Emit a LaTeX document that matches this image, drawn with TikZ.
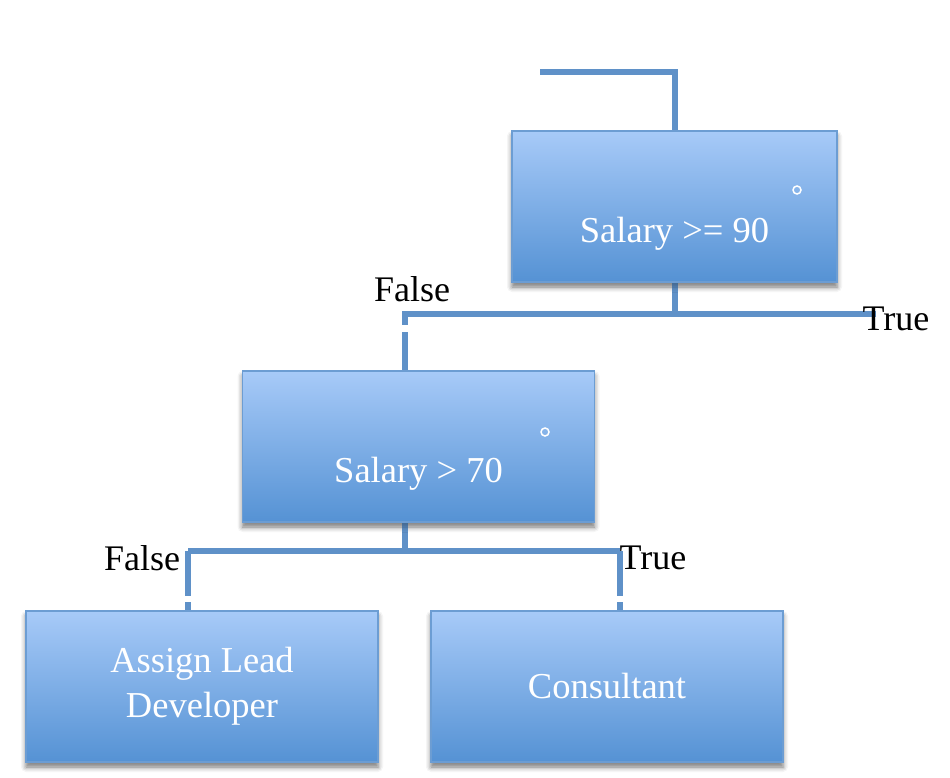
\documentclass[tikz,border=0pt]{standalone}
\usepackage{fontspec}
\setmainfont{Liberation Serif}
\usetikzlibrary{shadows.blur}
\definecolor{boxtop}{HTML}{A7CAF8}
\definecolor{boxbot}{HTML}{5592D4}
\definecolor{boxedge}{HTML}{6C9DD3}
\definecolor{wire}{HTML}{5F91C8}
\tikzset{
  box/.style={rectangle, draw=boxedge, line width=1.5pt, top color=boxtop, bottom color=boxbot,
    minimum width=352pt, minimum height=151pt, text=white, align=center,
    font=\fontsize{36.5}{45}\selectfont, inner sep=0pt,
    blur shadow={shadow xshift=0pt, shadow yshift=-5pt, shadow blur radius=5pt, shadow opacity=30}},
  wireline/.style={draw=wire, line width=6pt},
  gap/.style={fill=white, draw=none},
  lbl/.style={font=\fontsize{36}{40}\selectfont, text=black, inner sep=0pt},
  dot/.style={circle, draw=white, line width=1.5pt, minimum size=8pt, inner sep=0pt}
}
\newcommand{\lowtext}[1]{\raisebox{-36pt}[0pt][0pt]{#1}}
\begin{document}
\begin{tikzpicture}[x=1pt, y=-1pt]
\useasboundingbox (0,0) rectangle (950,778);
\coordinate (start) at (540,72);
\coordinate (c1) at (675,72);
\coordinate (j1) at (675,314);
\coordinate (l1) at (405,314);
\coordinate (r1) at (876,314);
\coordinate (j2) at (405,551);
\coordinate (l2) at (188,551);
\coordinate (r2) at (620,551);

% boxes (named) -- drawn first to define anchors
\node[box, minimum width=325pt] (q1) at (674.5,206.5) {\lowtext{Salary >= 90}};
\node[box] (q2) at (418.5,446.5) {\lowtext{Salary > 70}};
\node[box] (lead) at (202,686.5) {\raisebox{-5pt}{\parbox{300pt}{\centering Assign Lead\\Developer}}};
\node[box] (cons) at (607,686.5) {Consultant};

% connectors
\draw[wireline] (start) -- (c1) -- (c1 |- q1.north);
\draw[wireline] (j1 |- q1.south) -- (j1);
\draw[wireline] (r1) -- (l1) -- (l1 |- q2.north);
\draw[wireline] (j2 |- q2.south) -- (j2);
\draw[wireline] (l2) -- (r2);
\draw[wireline] (l2) -- (l2 |- lead.north);
\draw[wireline] (r2) -- (r2 |- cons.north);

% white breaks in the drop lines
\fill[gap] (400,325) rectangle (410,332);
\fill[gap] (183,596) rectangle (193,602);
\fill[gap] (615,596) rectangle (625,602);

% boxes again over the line ends
\node[box, minimum width=325pt] at (674.5,206.5) {\lowtext{Salary >= 90}};
\node[box] at (418.5,446.5) {\lowtext{Salary > 70}};
\node[box] at (202,686.5) {\raisebox{-5pt}{\parbox{300pt}{\centering Assign Lead\\Developer}}};
\node[box] at (607,686.5) {Consultant};

\node[dot] (d1) at (797,190) {};
\node[dot] (d2) at (545,432) {};

\node[lbl] (f1) at (412,289) {False};
\node[lbl] (t1) at (896,319) {True};
\node[lbl] (f2) at (142,558) {False};
\node[lbl] (t2) at (653,558) {True};
\end{tikzpicture}
\end{document}
